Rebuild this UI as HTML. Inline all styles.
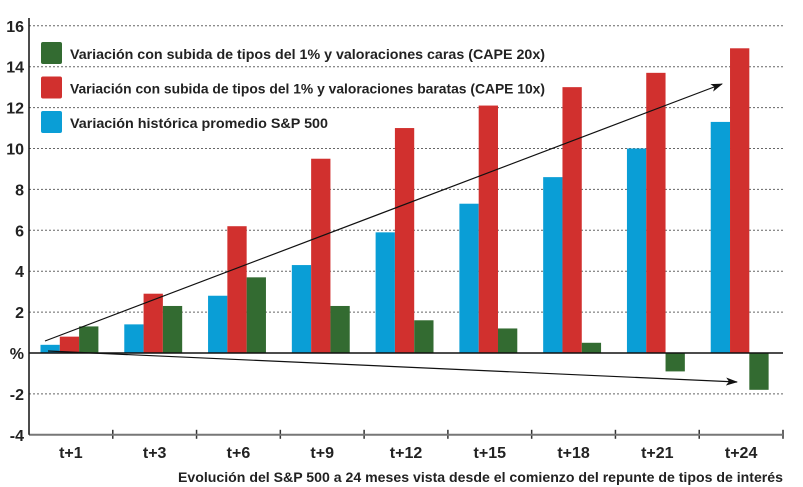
<!DOCTYPE html>
<html><head><meta charset="utf-8"><style>
body{margin:0;background:#fff;}
svg{display:block;font-family:"Liberation Sans",sans-serif;}
</style></head><body>
<svg id="c" width="803" height="487"></svg>
<script>
const categories=["t+1","t+3","t+6","t+9","t+12","t+15","t+18","t+21","t+24"];
const historico=[0.4,1.4,2.8,4.3,5.9,7.3,8.6,10.0,11.3];
const baratas=[0.8,2.9,6.2,9.5,11.0,12.1,13.0,13.7,14.9];
const caras=[1.3,2.3,3.7,2.3,1.6,1.2,0.5,-0.9,-1.8];
const yTicks=[16,14,12,10,8,6,4,2,0,-2,-4];
const yTickLabels=["16","14","12","10","8","6","4","2","%","-2","-4"];
const NS="http://www.w3.org/2000/svg";
const svg=document.getElementById('c');
const x0=29,x1=783,gw=(x1-x0)/categories.length,bw=19.3,off=11.5;
const y=v=>353-v*20.45;
function mk(t,a,p){const e=document.createElementNS(NS,t);for(const k in a)e.setAttribute(k,a[k]);(p||svg).appendChild(e);return e;}
const defs=mk('defs',{});
const m=mk('marker',{id:'ah',markerWidth:12,markerHeight:8,refX:11,refY:4,orient:'auto',markerUnits:'userSpaceOnUse'},defs);
mk('path',{d:'M0,0 L12,4 L0,8 L3,4 Z',fill:'#111'},m);
yTicks.forEach((v,i)=>{
  if(v!==0&&v!==-4){const g=mk('line',{x1:x0,x2:x1,y1:y(v),y2:y(v),stroke:'#666','stroke-dasharray':'2,2','stroke-width':1});
  }
  const t=mk('text',{x:x0-5,y:y(v)+6,'text-anchor':'end','font-size':16,'font-weight':'bold',fill:'#222'});
  t.textContent=yTickLabels[i];
  
});
const series=[[historico,'#0a9ed6','bar-historico'],[baratas,'#d1302e','bar-baratas'],[caras,'#336b31','bar-caras']];
categories.forEach((c,i)=>{
  const gx=x0+i*gw;
  series.forEach((s,j)=>{
    const v=s[0][i];
    const r=mk('rect',{x:gx+off+j*bw,y:Math.min(y(v),y(0)),width:bw,height:Math.abs(y(v)-y(0)),fill:s[1]});
    
  });
  const t=mk('text',{x:gx+gw/2,y:458,'text-anchor':'middle','font-size':16,'font-weight':'bold',fill:'#222'});
  t.textContent=c;
  
  const tk=mk('line',{x1:gx+gw,x2:gx+gw,y1:y(-4)-5,y2:y(-4)+4,stroke:'#333','stroke-width':1.5});
  
});
const zl=mk('line',{x1:x0,x2:x1,y1:y(0),y2:y(0),stroke:'#111','stroke-width':1.5});

const xa=mk('line',{x1:x0,x2:x1,y1:y(-4),y2:y(-4),stroke:'#777','stroke-width':2});

const ya=mk('line',{x1:x0,x2:x0,y1:18,y2:y(-4),stroke:'#111','stroke-width':1.5});

const a1=mk('line',{x1:45,y1:341,x2:722,y2:84,stroke:'#111','stroke-width':1.2,'marker-end':'url(#ah)'});

const a2=mk('line',{x1:48,y1:351,x2:737,y2:382,stroke:'#111','stroke-width':1.2,'marker-end':'url(#ah)'});

const legend=[['#336b31','Variación con subida de tipos del 1% y valoraciones caras (CAPE 20x)',475],['#d1302e','Variación con subida de tipos del 1% y valoraciones baratas (CAPE 10x)',475],['#0a9ed6','Variación histórica promedio S&P 500',258]];
legend.forEach((l,i)=>{
  const cy=53+i*34.5;
  const r=mk('rect',{x:41,y:cy-11,width:21,height:22,rx:2,fill:l[0]});
  
  const t=mk('text',{x:70,y:cy+6,'font-size':14,'font-weight':'bold',fill:'#222',textLength:l[2],lengthAdjust:'spacingAndGlyphs'});
  t.textContent=l[1];
  
});
const xt=mk('text',{x:783,y:482,'text-anchor':'end','font-size':14,'font-weight':'bold',fill:'#222',textLength:605,lengthAdjust:'spacingAndGlyphs'});
xt.textContent='Evolución del S&P 500 a 24 meses vista desde el comienzo del repunte de tipos de interés';

</script>
</body></html>
